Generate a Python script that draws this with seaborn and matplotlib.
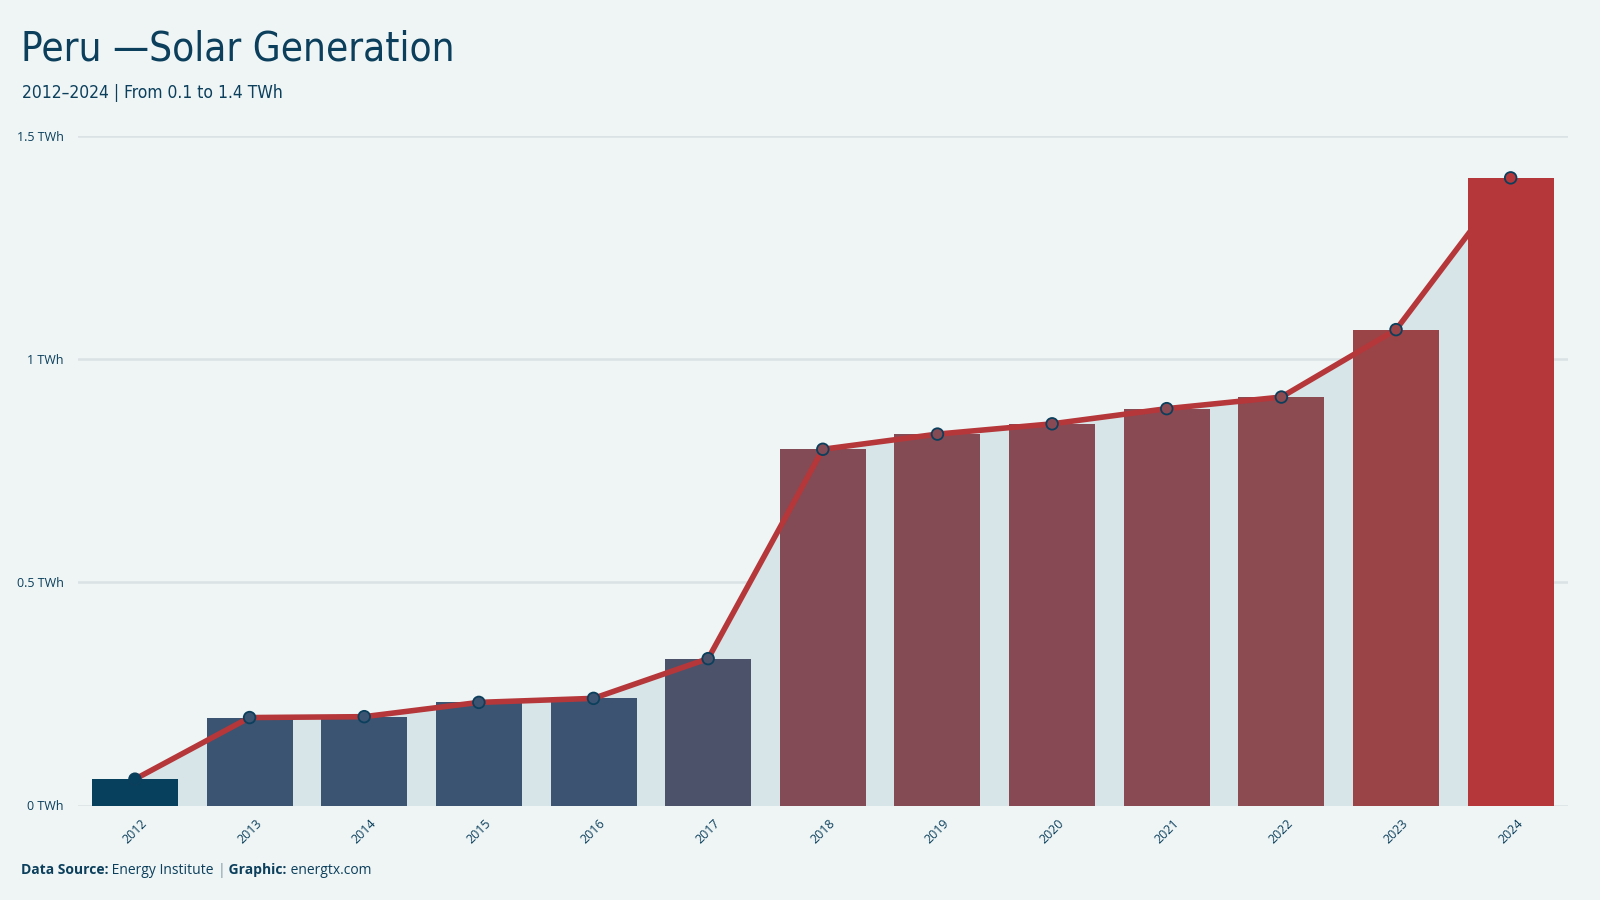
import matplotlib
matplotlib.use("Agg")
import matplotlib.pyplot as plt
import pandas as pd
import seaborn as sns

years = [str(y) for y in range(2012, 2025)]
generation_twh = [0.059, 0.197, 0.199, 0.231, 0.240, 0.329, 0.798,
                  0.832, 0.855, 0.889, 0.915, 1.066, 1.406]
bar_colors = ["#06405c", "#3a5472", "#3a5472", "#3b5472", "#3c5472",
              "#4d526b", "#834b55", "#854b55", "#874a54", "#8a4a53",
              "#8c4a51", "#9a4448", "#b5373a"]
y_ticks = [0, 0.5, 1, 1.5]
y_tick_labels = ["0 TWh", "0.5 TWh", "1 TWh", "1.5 TWh"]

BG = "#eff5f5"
NAVY = "#0b3f5c"
RED = "#b5373a"

sns.set_style("white")
plt.rcParams["font.family"] = ["Open Sans", "DejaVu Sans"]

df = pd.DataFrame({"year": years, "twh": generation_twh})

fig = plt.figure(figsize=(16, 9), dpi=100, facecolor=BG)
ax = fig.add_axes([0.0485, 0.105, 0.9315, 0.744])
ax.set_facecolor(BG)

x = range(len(years))
ax.fill_between(x, 0, df["twh"], color="#d7e4e8", zorder=1, linewidth=0)
sns.barplot(data=df, x="year", y="twh", hue="year", palette=bar_colors,
            width=0.75, saturation=1, legend=False, ax=ax, zorder=2,
            linewidth=0, edgecolor="none")
ax.plot(x, df["twh"], color=RED, linewidth=4, zorder=3, solid_capstyle="round")
ax.scatter(x, df["twh"], s=70, c=bar_colors, edgecolors=NAVY,
           linewidths=1.3, zorder=4)

ax.set_xlim(-0.5, 12.5)
ax.set_ylim(0, 1.5)
ax.set_yticks(y_ticks)
ax.set_yticklabels(y_tick_labels)
ax.yaxis.grid(True, color="#dbe2e5", linewidth=1.8, zorder=0)
ax.set_axisbelow(True)
for s in ax.spines.values():
    s.set_visible(False)
ax.tick_params(axis="y", length=0, pad=10, labelsize=9, labelcolor=NAVY)
ax.tick_params(axis="x", length=0, pad=8, labelsize=9, labelcolor=NAVY)
for lab in ax.get_xticklabels():
    lab.set_rotation(45)
ax.set_xlabel("")
ax.set_ylabel("")

fig.text(0.013, 0.945, "Peru \u2014Solar Generation", fontsize=29, color=NAVY,
         fontstretch="condensed", family=["DejaVu Sans"], va="center")
fig.text(0.014, 0.897, "2012\u20132024 | From 0.1 to 1.4 TWh", fontsize=12.5,
         color=NAVY, fontstretch="condensed", family=["DejaVu Sans"], va="center")

# footer built piece by piece so bold and regular parts line up
parts = [("Data Source:", "bold", NAVY), (" Energy Institute ", "normal", NAVY),
         ("|", "normal", "#7f97a6"), (" Graphic:", "bold", NAVY),
         (" energtx.com", "normal", NAVY)]
t = fig.text(0.013, 0.033, parts[0][0], fontsize=10, fontweight=parts[0][1],
             color=parts[0][2], va="center")
for text, weight, color in parts[1:]:
    t = ax.annotate(text, xy=(1, 0.5), xycoords=t, va="center", ha="left",
                    fontsize=10, fontweight=weight, color=color,
                    annotation_clip=False)

fig.savefig("out.png", dpi=100, facecolor=BG)
